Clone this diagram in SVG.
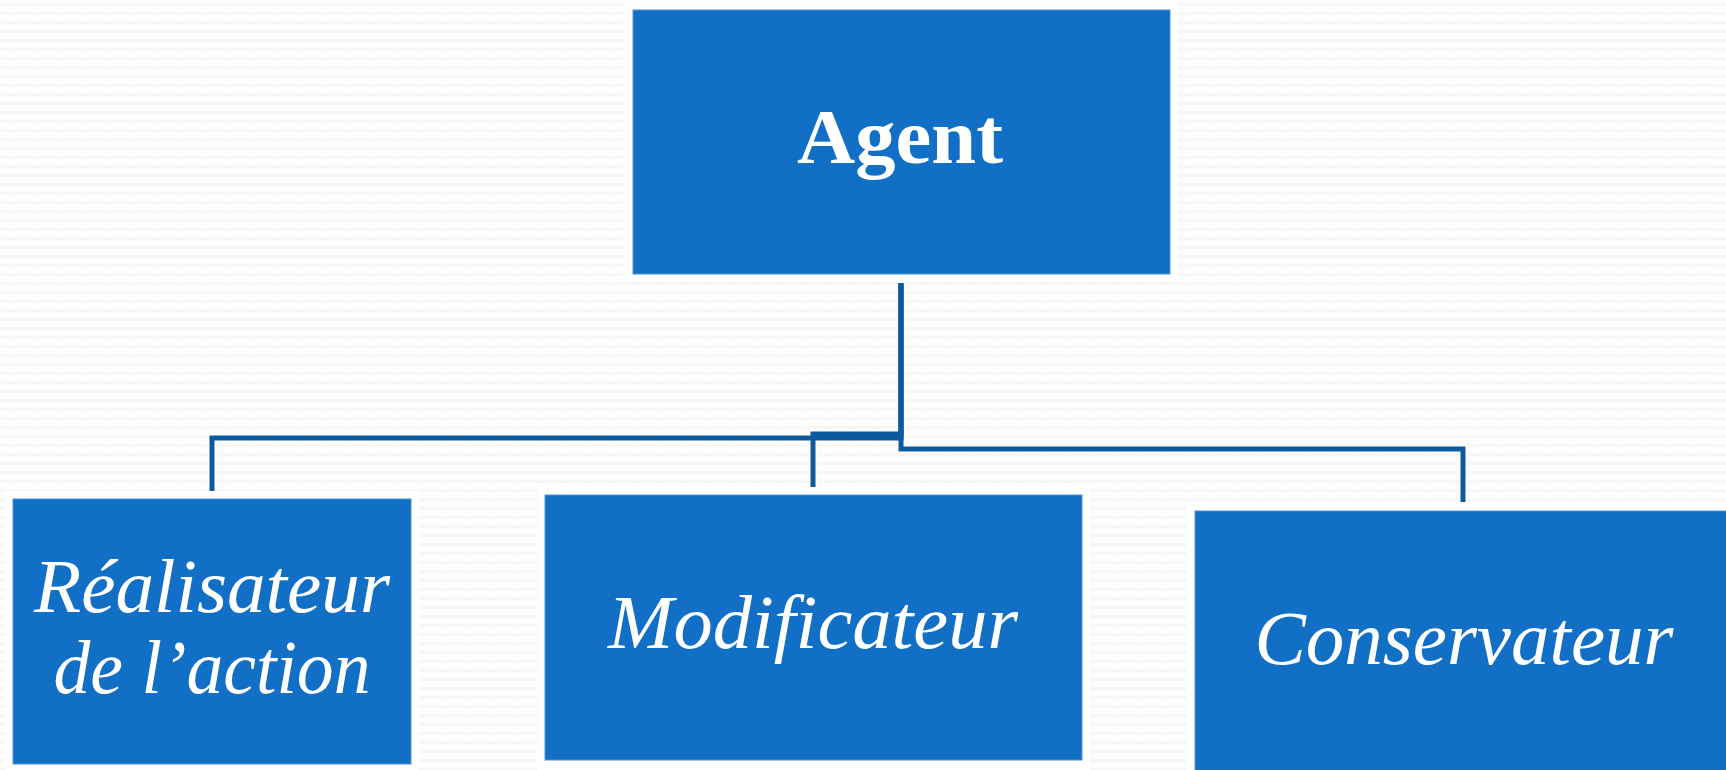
<svg xmlns="http://www.w3.org/2000/svg" width="1726" height="770" viewBox="0 0 1726 770">
<defs>
<pattern id="zz" width="6" height="9" patternUnits="userSpaceOnUse">
<rect width="6" height="9" fill="#fdfdfd"/>
<path d="M0 6 L1.5 3 L3 6 L4.5 3 L6 6" fill="none" stroke="#f2f2f2" stroke-width="1"/>
</pattern>
<style>
.box{fill:#1170C5;stroke:#4f93d6;stroke-width:1}
.halo{fill:#ffffff}
.conn{fill:none;stroke:#0B5AA0;stroke-width:5;stroke-linejoin:miter}
.connhalo{fill:none;stroke:#ffffff;stroke-width:8;stroke-linejoin:miter}
.lbl{font-family:"Liberation Serif","DejaVu Serif",serif;fill:#ffffff;text-anchor:middle}
.it{font-style:italic;font-size:76px}
.bd{font-weight:bold;font-size:78px}
</style>
</defs>
<rect width="1726" height="770" fill="url(#zz)"/>
<g id="halos">
<rect class="halo" x="625" y="2" width="553" height="280"/>
<rect class="halo" x="5" y="491" width="414" height="281"/>
<rect class="halo" x="537" y="487" width="553" height="283"/>
<rect class="halo" x="1187" y="503" width="545" height="270"/>
</g>
<g id="connectors">
<path class="connhalo" d="M901 283 V438 H212 V491"/>
<path class="connhalo" d="M901 283 V434 H813 V487"/>
<path class="connhalo" d="M901 283 V449 H1463 V502"/>
<path class="conn" d="M901 283 V438 H212 V491"/>
<path class="conn" d="M901 283 V434 H813 V487"/>
<path class="conn" d="M901 283 V449 H1463 V502"/>
</g>
<g id="agent">
<rect class="box" x="633" y="10" width="537" height="264"/>
<text class="lbl bd" x="900" y="163" textLength="206" lengthAdjust="spacingAndGlyphs">Agent</text>
</g>
<g id="realisateur">
<rect class="box" x="13" y="499" width="398" height="265"/>
<text class="lbl it" x="212" y="612" textLength="356" lengthAdjust="spacingAndGlyphs">Réalisateur</text>
<text class="lbl it" x="212" y="693" textLength="317" lengthAdjust="spacingAndGlyphs">de l’action</text>
</g>
<g id="modificateur">
<rect class="box" x="545" y="495" width="537" height="265"/>
<text class="lbl it" x="813" y="648" textLength="410" lengthAdjust="spacingAndGlyphs">Modificateur</text>
</g>
<g id="conservateur">
<rect class="box" x="1195" y="511" width="540" height="265"/>
<text class="lbl it" x="1464" y="664" textLength="419" lengthAdjust="spacingAndGlyphs">Conservateur</text>
</g>
</svg>
